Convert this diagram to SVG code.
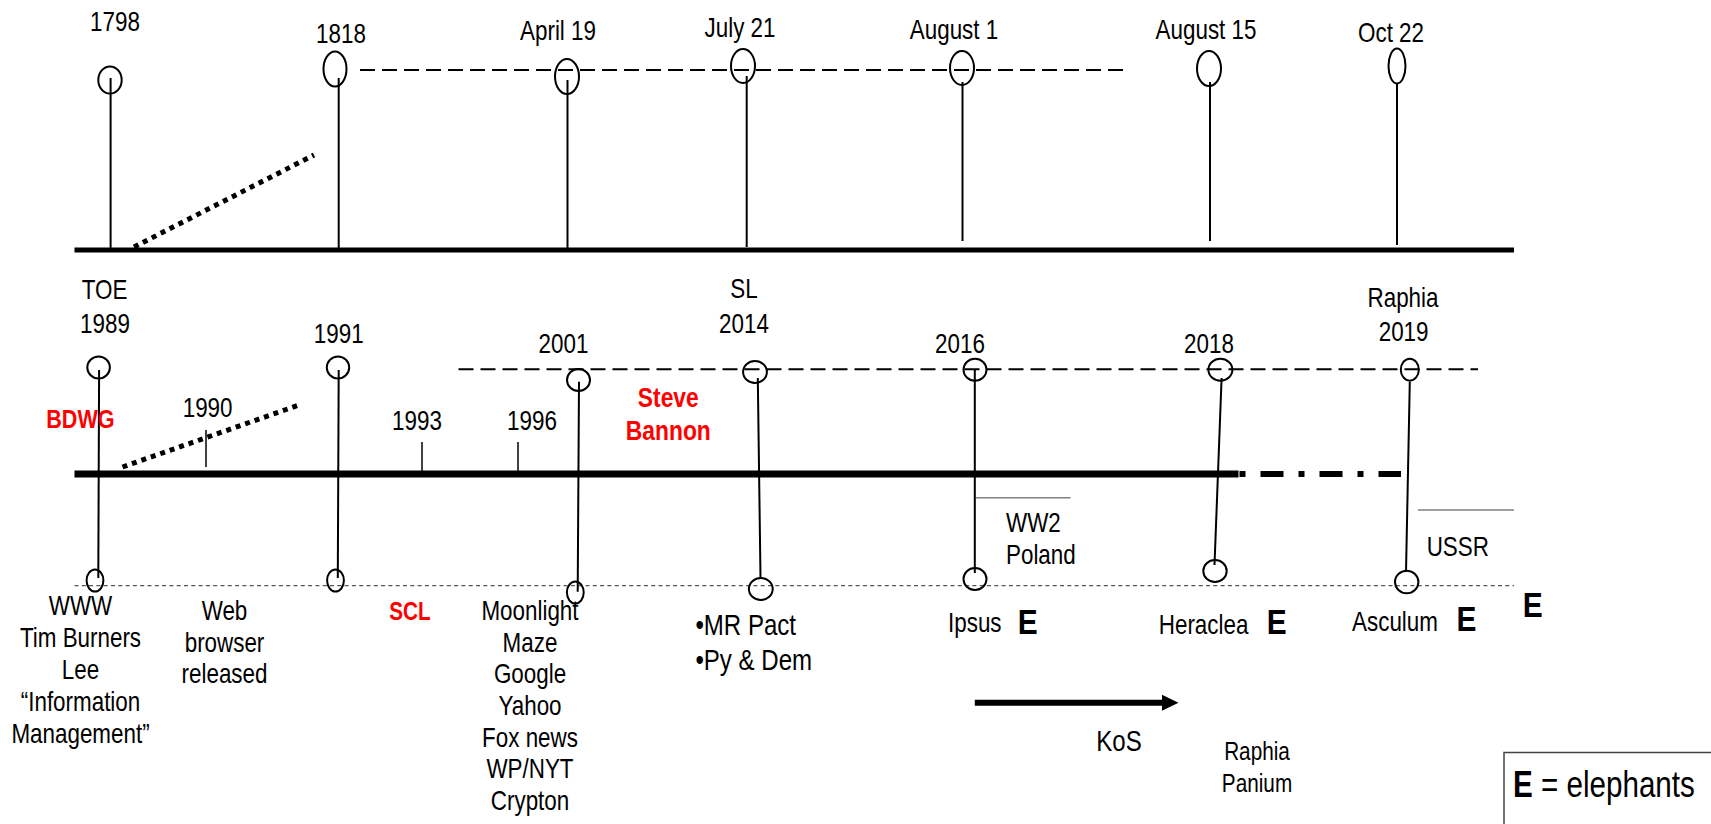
<svg xmlns="http://www.w3.org/2000/svg" width="1711" height="824" viewBox="0 0 1711 824">
<style>
.t{font-family:"Liberation Sans",Arial,sans-serif;font-size:27px;fill:#000;text-anchor:middle}
.l{text-anchor:start}
.red{fill:#f00;font-weight:bold}
.b{font-weight:bold}
.stem{stroke:#000;stroke-width:2;fill:none}
.pin{fill:none;stroke:#000;stroke-width:2}
.tick{stroke:#000;stroke-width:1.5}
.gray{stroke:#808080;stroke-width:1.5}
</style>
<rect width="1711" height="824" fill="#fff"/>
<g id="connectors" fill="none">
  <line x1="74.5" y1="250" x2="1514" y2="250" stroke="#000" stroke-width="5"/>
  <line x1="74.5" y1="474" x2="1238.5" y2="474" stroke="#000" stroke-width="7"/>
  <line x1="1239.5" y1="474" x2="1401" y2="474" stroke="#000" stroke-width="6" stroke-dasharray="6 15 23 15"/>
  <line x1="360" y1="70" x2="1124" y2="70" stroke="#000" stroke-width="2" stroke-dasharray="15 7"/>
  <line x1="458.5" y1="369.3" x2="1478" y2="369.3" stroke="#000" stroke-width="2" stroke-dasharray="15 7"/>
  <line x1="74.5" y1="585.7" x2="1514" y2="585.7" stroke="#555" stroke-width="1.3" stroke-dasharray="4 3.3"/>
  <line x1="134" y1="247" x2="314" y2="155" stroke="#000" stroke-width="5" stroke-dasharray="5 5"/>
  <line x1="122.5" y1="467" x2="299" y2="405" stroke="#000" stroke-width="5" stroke-dasharray="5 5"/>
  <line class="gray" x1="975.6" y1="497.7" x2="1070.5" y2="497.7"/>
  <line class="gray" x1="1418" y1="510" x2="1514" y2="510"/>
  <line x1="974.8" y1="702.7" x2="1164" y2="702.7" stroke="#000" stroke-width="6"/>
  <polygon points="1162,694.7 1178.5,702.7 1162,710.7" fill="#000"/>
</g>
<g id="n1798">
  <ellipse class="pin" cx="110" cy="80" rx="11.7" ry="13.5"/>
  <line class="stem" x1="110.6" y1="78" x2="110.6" y2="250"/>
  <text class="t" transform="translate(115 31) scale(.83 1)">1798</text>
</g>
<g id="n1818">
  <ellipse class="pin" cx="335" cy="69" rx="11.5" ry="17.5"/>
  <line class="stem" x1="338.7" y1="78" x2="338.7" y2="250"/>
  <text class="t" transform="translate(341 43) scale(.83 1)">1818</text>
</g>
<g id="april19">
  <ellipse class="pin" cx="567" cy="76.5" rx="12" ry="17.5"/>
  <line class="stem" x1="567.5" y1="80" x2="567.5" y2="250"/>
  <text class="t" transform="translate(558 40) scale(.83 1)">April 19</text>
</g>
<g id="july21">
  <ellipse class="pin" cx="743" cy="66" rx="12" ry="17"/>
  <line class="stem" x1="746.7" y1="76" x2="746.7" y2="247"/>
  <text class="t" transform="translate(740 36.5) scale(.83 1)">July 21</text>
</g>
<g id="august1">
  <ellipse class="pin" cx="962" cy="68" rx="12" ry="17"/>
  <line class="stem" x1="962.5" y1="82" x2="962.5" y2="241"/>
  <text class="t" transform="translate(954 39) scale(.83 1)">August 1</text>
</g>
<g id="august15">
  <ellipse class="pin" cx="1209" cy="68.5" rx="12" ry="17.5"/>
  <line class="stem" x1="1210" y1="82" x2="1210" y2="241"/>
  <text class="t" transform="translate(1206 39) scale(.83 1)">August 15</text>
</g>
<g id="oct22">
  <ellipse class="pin" cx="1397" cy="66" rx="8.5" ry="17.5"/>
  <line class="stem" x1="1397" y1="83" x2="1397" y2="245"/>
  <text class="t" transform="translate(1391 41.7) scale(.83 1)">Oct 22</text>
</g>
<g id="toe1989">
  <ellipse class="pin" cx="98.6" cy="367.5" rx="11.3" ry="11"/>
  <line class="stem" x1="99.1" y1="370" x2="98.3" y2="578"/>
  <ellipse class="pin" cx="95" cy="580.5" rx="8.4" ry="11"/>
  <text class="t" transform="translate(104.5 299) scale(.83 1)">TOE</text>
  <text class="t" transform="translate(105 332.7) scale(.83 1)">1989</text>
  <text class="t" transform="translate(80.5 615) scale(.83 1)"><tspan x="0">WWW</tspan><tspan x="0" dy="32">Tim Burners</tspan><tspan x="0" dy="32">Lee</tspan><tspan x="0" dy="32">“Information</tspan><tspan x="0" dy="32">Management”</tspan></text>
</g>
<g id="bdwg">
  <text class="t red" style="font-size:26px" transform="translate(80.4 428) scale(.83 1)">BDWG</text>
</g>
<g id="n1990">
  <line class="tick" x1="206" y1="430" x2="206" y2="467"/>
  <text class="t" transform="translate(207.6 416.7) scale(.83 1)">1990</text>
  <text class="t" transform="translate(224.5 620) scale(.83 1)"><tspan x="0">Web</tspan><tspan x="0" dy="31.7">browser</tspan><tspan x="0" dy="31.7">released</tspan></text>
</g>
<g id="n1991">
  <ellipse class="pin" cx="338" cy="367.5" rx="11.2" ry="11"/>
  <line class="stem" x1="338.7" y1="370" x2="337.8" y2="578"/>
  <ellipse class="pin" cx="335.5" cy="580.5" rx="8.4" ry="11"/>
  <text class="t" transform="translate(338.7 342.7) scale(.83 1)">1991</text>
</g>
<g id="n1993">
  <line class="tick" x1="422" y1="442" x2="422" y2="471"/>
  <text class="t" transform="translate(417 430) scale(.83 1)">1993</text>
</g>
<g id="scl">
  <text class="t red" style="font-size:25px" transform="translate(410 620) scale(.83 1)">SCL</text>
</g>
<g id="n1996">
  <line class="tick" x1="518" y1="442" x2="518" y2="471"/>
  <text class="t" transform="translate(532 430) scale(.83 1)">1996</text>
</g>
<g id="n2001">
  <ellipse class="pin" cx="578.5" cy="380" rx="11.5" ry="11"/>
  <line class="stem" x1="579" y1="381.7" x2="577.7" y2="591.7"/>
  <ellipse class="pin" cx="575.3" cy="592.5" rx="8.4" ry="11"/>
  <text class="t" transform="translate(563.5 352.7) scale(.83 1)">2001</text>
  <text class="t" transform="translate(530 620) scale(.83 1)"><tspan x="0">Moonlight</tspan><tspan x="0" dy="31.7">Maze</tspan><tspan x="0" dy="31.7">Google</tspan><tspan x="0" dy="31.7">Yahoo</tspan><tspan x="0" dy="31.7">Fox news</tspan><tspan x="0" dy="31.7">WP/NYT</tspan><tspan x="0" dy="31.7">Crypton</tspan></text>
</g>
<g id="bannon">
  <text class="t red" style="font-size:27.5px" transform="translate(668.3 406.5) scale(.83 1)"><tspan x="0">Steve</tspan><tspan x="0" dy="33.5">Bannon</tspan></text>
</g>
<g id="sl2014">
  <ellipse class="pin" cx="755" cy="372" rx="11.9" ry="11"/>
  <line class="stem" x1="757.8" y1="378" x2="760.5" y2="578"/>
  <ellipse class="pin" cx="760.8" cy="589" rx="11.9" ry="11"/>
  <text class="t" transform="translate(744 298.3) scale(.83 1)">SL</text>
  <text class="t" transform="translate(744 332.7) scale(.83 1)">2014</text>
  <text class="t l" style="font-size:29px" transform="translate(695.4 635) scale(.83 1)"><tspan x="0">•MR Pact</tspan><tspan x="0" dy="35">•Py &amp; Dem</tspan></text>
</g>
<g id="n2016">
  <ellipse class="pin" cx="975" cy="369.7" rx="11.5" ry="11"/>
  <line class="stem" x1="974.8" y1="370" x2="974.8" y2="573"/>
  <ellipse class="pin" cx="975" cy="579" rx="11.5" ry="11"/>
  <text class="t" transform="translate(960 352.7) scale(.83 1)">2016</text>
  <text class="t l" transform="translate(1006 531.7) scale(.83 1)"><tspan x="0">WW2</tspan><tspan x="0" dy="32.3">Poland</tspan></text>
  <text class="t l" transform="translate(948 632) scale(.83 1)">Ipsus</text>
  <text class="t l b" style="font-size:36px" transform="translate(1017.7 634) scale(.83 1)">E</text>
</g>
<g id="kos">
  <text class="t" style="font-size:29px" transform="translate(1119 750.5) scale(.83 1)">KoS</text>
</g>
<g id="n2018">
  <ellipse class="pin" cx="1220.4" cy="369.7" rx="12" ry="11"/>
  <line class="stem" x1="1221.6" y1="378" x2="1214.5" y2="565"/>
  <ellipse class="pin" cx="1215" cy="571" rx="11.7" ry="11"/>
  <text class="t" transform="translate(1209 353.3) scale(.83 1)">2018</text>
  <text class="t" transform="translate(1203.6 634) scale(.83 1)">Heraclea</text>
  <text class="t l b" style="font-size:36px" transform="translate(1266.8 634) scale(.83 1)">E</text>
  <text class="t" style="font-size:25px" transform="translate(1257 760) scale(.83 1)"><tspan x="0">Raphia</tspan><tspan x="0" dy="31.7">Panium</tspan></text>
</g>
<g id="raphia2019">
  <ellipse class="pin" cx="1409.8" cy="369.7" rx="9" ry="11"/>
  <line class="stem" x1="1409.8" y1="381.7" x2="1406" y2="572"/>
  <ellipse class="pin" cx="1406.7" cy="582" rx="11.7" ry="11.3"/>
  <text class="t" transform="translate(1403 306.5) scale(.83 1)">Raphia</text>
  <text class="t" transform="translate(1403.6 340.7) scale(.83 1)">2019</text>
  <text class="t l" transform="translate(1426.7 556) scale(.83 1)">USSR</text>
  <text class="t" transform="translate(1395 630.7) scale(.83 1)">Asculum</text>
  <text class="t l b" style="font-size:36px" transform="translate(1456.6 630.7) scale(.83 1)">E</text>
</g>
<g id="lone-e">
  <text class="t l b" style="font-size:36px" transform="translate(1522.8 616.7) scale(.83 1)">E</text>
</g>
<g id="legend">
  <rect x="1504" y="752.5" width="220" height="100" fill="#fff" stroke="#444" stroke-width="1.5"/>
  <text class="t l" style="font-size:37px" transform="translate(1513 796.7) scale(.8 1)"><tspan font-weight="bold">E</tspan> = elephants</text>
</g>
</svg>
